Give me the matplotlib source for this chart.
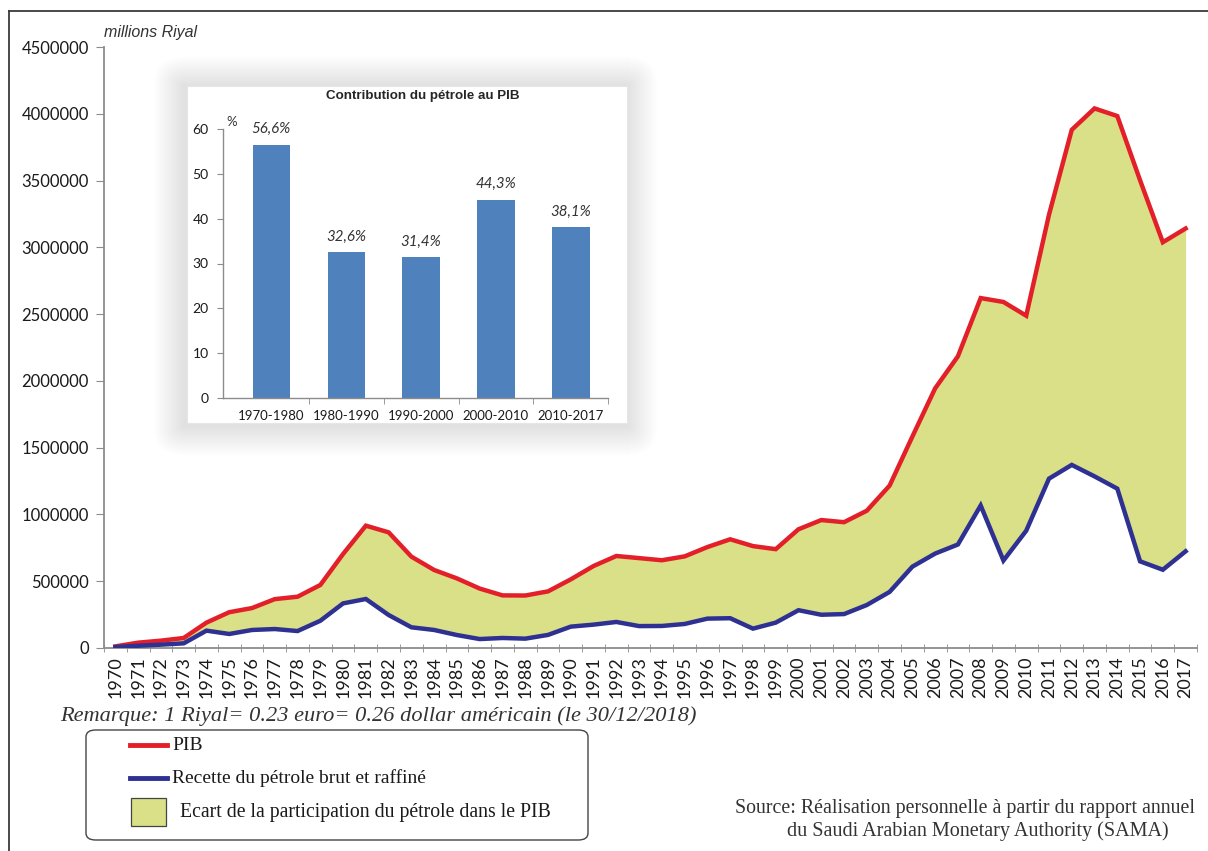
import numpy as np
import matplotlib
matplotlib.use("Agg")
import matplotlib.pyplot as plt
from matplotlib.patches import FancyBboxPatch, Rectangle
from matplotlib.lines import Line2D

# ---------------- data ----------------
years = list(range(1970, 2018))
pib = [12000, 40000, 55000, 75000, 190000, 268000, 299000, 366000, 384000, 472000,
       704000, 916000, 866000, 684000, 584000, 521000, 445000, 394000, 393000, 424000,
       514000, 614000, 689000, 673000, 657000, 686000, 756000, 814000, 763000, 740000,
       889000, 958000, 942000, 1028000, 1216000, 1583000, 1944000, 2184000, 2620000, 2591000,
       2488000, 3244000, 3880000, 4040000, 3983000, 3502000, 3038000, 3141000]
petrole = [7000, 17000, 25000, 35000, 130000, 105000, 135000, 142000, 127000, 204000,
           334000, 367000, 247000, 155000, 135000, 97000, 67000, 75000, 70000, 98000,
           160000, 175000, 195000, 164000, 165000, 180000, 220000, 223000, 145000, 190000,
           283000, 249000, 254000, 322000, 420000, 609000, 707000, 775000, 1067000, 655000,
           878000, 1268000, 1371000, 1285000, 1193000, 649000, 586000, 724000]

periods = ["1970-1980", "1980-1990", "1990-2000", "2000-2010", "2010-2017"]
contrib = [56.6, 32.6, 31.4, 44.3, 38.1]
contrib_labels = ["56,6%", "32,6%", "31,4%", "44,3%", "38,1%"]

y_ticks = list(range(0, 4500001, 500000))
inset_ticks = [0, 10, 20, 30, 40, 50, 60]

# ---------------- style ----------------
W, H = 1208, 851
RED = "#E3202A"
BLUE = "#2E3192"
FILL = "#D9E087"
BAR = "#4F81BD"
SPINE = "#8C8C8C"
SANS = "Lato"
SERIF = "Liberation Serif"

def fx(x):
    return x / W

def fy(y):
    return 1 - y / H

fig = plt.figure(figsize=(W / 100, H / 100), dpi=100)
fig.patch.set_facecolor("white")

# ---------------- main axes ----------------
ax = fig.add_axes([fx(104), fy(648), fx(1197) - fx(104), fy(47) - fy(648)])
ax.set_zorder(0)
xi = np.arange(len(years))
ax.fill_between(xi, petrole, pib, color=FILL, lw=0, zorder=1)
ax.plot(xi, pib, color=RED, lw=3.2, solid_joinstyle="miter", zorder=3)
ax.plot(xi, petrole, color=BLUE, lw=3.2, solid_joinstyle="miter", zorder=3)
ax.set_xlim(-0.5, len(years) - 0.5)
ax.set_ylim(0, 4500000)

ax.set_yticks(y_ticks)
ax.set_yticklabels([str(v) for v in y_ticks], fontfamily=SANS, fontsize=12, color="#1a1a1a")
ax.set_xticks(xi)
ax.set_xticklabels([str(y) for y in years], rotation=90, fontfamily=SANS,
                   fontsize=13, color="#1a1a1a")
ax.set_xticks(np.arange(-0.5, len(years), 1), minor=True)
ax.tick_params(axis="x", which="major", length=0, pad=6)
ax.tick_params(axis="x", which="minor", length=6, color=SPINE, direction="inout")
ax.tick_params(axis="y", length=6, color=SPINE, pad=5)
for s in ["top", "right"]:
    ax.spines[s].set_visible(False)
for s in ["left", "bottom"]:
    ax.spines[s].set_color(SPINE)
    ax.spines[s].set_linewidth(1.3)
ax.set_facecolor("none")

fig.text(fx(104), fy(33), "millions Riyal", fontfamily="Liberation Sans",
         fontstyle="italic", fontsize=11.5, color="#333333", va="center", ha="left")

# ---------------- inset shadow & box ----------------
bx0, by0, bx1, by1 = 187, 86, 627, 423
n_layers = 30
for k in range(n_layers, 0, -1):
    r = FancyBboxPatch((fx(bx0 - k - 3), fy(by1 + k + 3)),
                       fx(bx1 + k) - fx(bx0 - k - 3), fy(by0 - k) - fy(by1 + k + 3),
                       boxstyle="round,pad=0,rounding_size=%f" % (1.2 * k / W),
                       transform=fig.transFigure, facecolor="black", edgecolor="none",
                       alpha=0.0055, zorder=1)
    fig.add_artist(r)
box = Rectangle((fx(bx0), fy(by1)), fx(bx1) - fx(bx0), fy(by0) - fy(by1),
                transform=fig.transFigure, facecolor="white", edgecolor="#e6e6e6",
                lw=0.8, zorder=1.5)
fig.add_artist(box)

# ---------------- inset axes ----------------
ia = fig.add_axes([fx(222.7), fy(397.7), fx(608.3) - fx(222.7), fy(129.3) - fy(397.7)])
ia.set_zorder(2)
ia.set_facecolor("none")
pi = np.arange(len(periods))
bars = ia.bar(pi, contrib, width=0.5, color=BAR, zorder=2)
ia.set_xlim(-0.65, len(periods) - 0.5)
ia.set_ylim(0, 60)
ia.set_yticks(inset_ticks)
ia.set_yticklabels([str(t) for t in inset_ticks], fontfamily=SANS, fontsize=10, color="#1a1a1a")
ia.set_xticks(pi)
ia.set_xticklabels(periods, fontfamily=SANS, fontsize=9.5, color="#1a1a1a")
ia.set_xticks(np.arange(0.5, len(periods), 1), minor=True)
ia.tick_params(axis="x", which="major", length=0, pad=9)
ia.tick_params(axis="x", which="minor", length=4, color=SPINE)
ia.tick_params(axis="y", length=4, color=SPINE, pad=6)
for s in ["top", "right"]:
    ia.spines[s].set_visible(False)
for s in ["left", "bottom"]:
    ia.spines[s].set_color(SPINE)
    ia.spines[s].set_linewidth(1.0)
for b, lab in zip(bars, contrib_labels):
    ia.annotate(lab, (b.get_x() + b.get_width() / 2, b.get_height()),
                xytext=(0, 6), textcoords="offset points", ha="center", va="bottom",
                fontfamily=SANS, fontstyle="italic", fontsize=10.8, color="#333333")
fig.text(fx(423), fy(96), "Contribution du pétrole au PIB", fontfamily="Liberation Sans",
         fontweight="bold", fontsize=9.6, color="#262626", ha="center", va="center", zorder=3)
fig.text(fx(231.5), fy(122), "%", fontfamily=SANS, fontsize=9.5, color="#333333",
         ha="center", va="center", zorder=3)

# ---------------- frame lines ----------------
fig.add_artist(Line2D([fx(9), fx(W)], [fy(11), fy(11)], transform=fig.transFigure,
                      color="#3a3a3a", lw=1.3))
fig.add_artist(Line2D([fx(9), fx(9)], [fy(11), fy(H)], transform=fig.transFigure,
                      color="#3a3a3a", lw=1.3))

# ---------------- note ----------------
fig.text(fx(60), fy(716), "Remarque: 1 Riyal= 0.23 euro= 0.26 dollar américain (le 30/12/2018)",
         fontfamily=SERIF, fontstyle="italic", fontsize=16.1, color="#333333",
         ha="left", va="center")

# ---------------- legend (manual) ----------------
leg = FancyBboxPatch((fx(86), fy(840)), fx(588) - fx(86), fy(730) - fy(840),
                     boxstyle="round,pad=0,rounding_size=0.008",
                     transform=fig.transFigure, facecolor="white", edgecolor="#444444",
                     lw=1.0, zorder=1)
fig.add_artist(leg)
fig.add_artist(Line2D([fx(130), fx(167)], [fy(745), fy(745)], transform=fig.transFigure,
                      color=RED, lw=3.5, zorder=2))
fig.add_artist(Line2D([fx(130), fx(167)], [fy(778), fy(778)], transform=fig.transFigure,
                      color=BLUE, lw=3.5, zorder=2))
fig.add_artist(Rectangle((fx(131), fy(826)), fx(166) - fx(131), fy(798) - fy(826),
                         transform=fig.transFigure, facecolor=FILL, edgecolor="#444444",
                         lw=0.9, zorder=2))
fig.text(fx(172), fy(745), "PIB", fontfamily=SERIF, fontsize=14, color="#1a1a1a",
         ha="left", va="center", zorder=3)
fig.text(fx(172), fy(778), "Recette du pétrole brut et raffiné", fontfamily=SERIF,
         fontsize=14, color="#1a1a1a", ha="left", va="center", zorder=3)
fig.text(fx(180), fy(812), "Ecart de la participation du pétrole dans le PIB", fontfamily=SERIF,
         fontsize=14.2, color="#1a1a1a", ha="left", va="center", zorder=3)

# ---------------- source ----------------
fig.text(fx(735), fy(808), "Source: Réalisation personnelle à partir du rapport annuel",
         fontfamily=SERIF, fontsize=14.3, color="#333333", ha="left", va="center")
fig.text(fx(787), fy(831), "du Saudi Arabian Monetary Authority (SAMA)",
         fontfamily=SERIF, fontsize=14.5, color="#333333", ha="left", va="center")

fig.savefig("out.png", dpi=100)
